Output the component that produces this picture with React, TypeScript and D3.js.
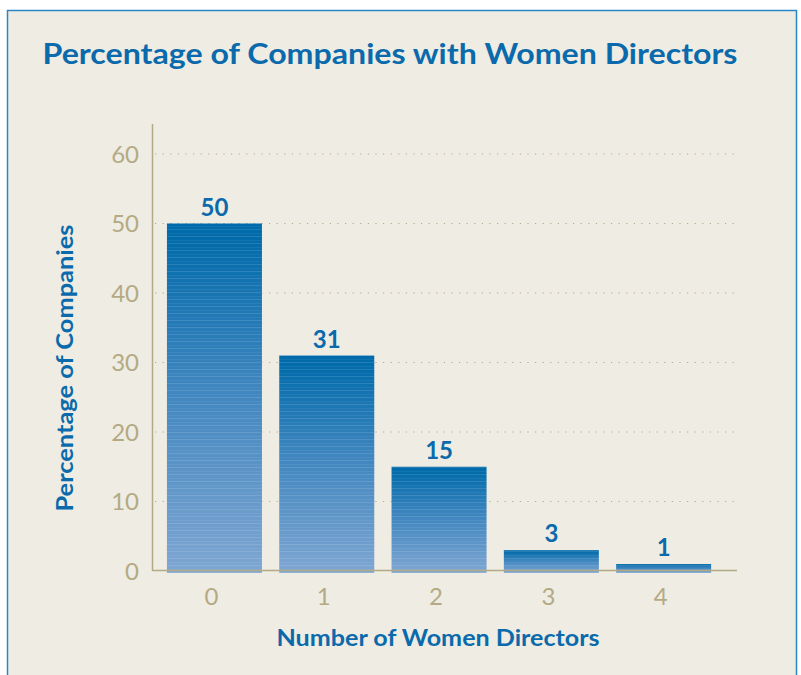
import React from "react";
import * as d3 from "d3";

const categories = ["0", "1", "2", "3", "4"];
const values = [50, 31, 15, 3, 1];
const yTicks = [0, 10, 20, 30, 40, 50, 60];
const title = "Percentage of Companies with Women Directors";
const xTitle = "Number of Women Directors";
const yTitle = "Percentage of Companies";

const W = 801;
const H = 675;
const BLUE = "#0a6aab";
const TAN = "#b3aa83";
const BG = "#efece4";

export default function App() {
  const x = d3
    .scaleBand<string>()
    .domain(categories)
    .range([158.3, 719.8])
    .paddingInner(0.154)
    .paddingOuter(0.077);
  const y = d3.scaleLinear().domain([0, 60]).range([571, 154]);
  const font = "Lato, 'Open Sans', 'DejaVu Sans', sans-serif";

  return (
    <svg
      width={W}
      height={H}
      style={{ position: "absolute", left: 0, top: 0, background: "#ffffff" }}
    >
      <defs>
        <linearGradient id="barGrad" x1="0" y1="0" x2="0" y2="1">
          <stop offset="0" stopColor="#006aaa" />
          <stop offset="0.06" stopColor="#046cab" />
          <stop offset="0.45" stopColor="#3d85be" />
          <stop offset="1" stopColor="#7fa6d2" />
        </linearGradient>
        <pattern id="stripes" width="8" height="7" patternUnits="userSpaceOnUse">
          <rect x="0" y="5" width="8" height="1" fill="#ffffff" opacity="0.12" />
          <rect x="0" y="2" width="8" height="1" fill="#ffffff" opacity="0.06" />
        </pattern>
      </defs>
      <rect x={7.5} y={10.5} width={789} height={680} fill={BG} stroke="#2a86c6" strokeWidth={1.5} />

      <text
        x={390}
        y={64}
        textAnchor="middle"
        fill={BLUE}
        fontFamily={font}
        fontWeight={700}
        fontSize={28}
        textLength={695}
        lengthAdjust="spacingAndGlyphs"
      >
        {title}
      </text>

      {yTicks
        .filter((t) => t > 0)
        .map((t) => (
          <line
            key={"g" + t}
            x1={155}
            x2={736}
            y1={y(t)}
            y2={y(t)}
            stroke={TAN}
            strokeWidth={1.2}
            strokeDasharray="1.2 6.4"
          />
        ))}

      {values.map((v, i) => {
        const bx = x(categories[i])!;
        const by = y(v);
        const bh = y(0) + 2 - by;
        return (
          <g key={"b" + i}>
            <rect x={bx} y={by} width={x.bandwidth()} height={bh} fill="url(#barGrad)" />
            <rect x={bx} y={by} width={x.bandwidth()} height={bh} fill="url(#stripes)" />
            <text
              x={bx + x.bandwidth() / 2}
              y={by - 8}
              textAnchor="middle"
              fill={BLUE}
              fontFamily={font}
              fontWeight={700}
              fontSize={24}
            >
              {v}
            </text>
          </g>
        );
      })}

      <line x1={152.5} x2={152.5} y1={124} y2={571} stroke={TAN} strokeWidth={1.5} />
      <line x1={152} x2={737} y1={570.5} y2={570.5} stroke={TAN} strokeWidth={1.5} />

      {yTicks.map((t) => (
        <text
          key={"y" + t}
          x={139}
          y={y(t) + 8.5}
          textAnchor="end"
          fill={TAN}
          fontFamily={font}
          fontSize={24}
        >
          {t}
        </text>
      ))}
      {categories.map((c) => (
        <text
          key={"x" + c}
          x={x(c)! + x.bandwidth() / 2 - 3}
          y={605}
          textAnchor="middle"
          fill={TAN}
          fontFamily={font}
          fontSize={24}
        >
          {c}
        </text>
      ))}

      <text
        x={438}
        y={646}
        textAnchor="middle"
        fill={BLUE}
        fontFamily={font}
        fontWeight={700}
        fontSize={22}
        textLength={323}
        lengthAdjust="spacingAndGlyphs"
      >
        {xTitle}
      </text>
      <text
        transform="translate(73,368) rotate(-90)"
        textAnchor="middle"
        fill={BLUE}
        fontFamily={font}
        fontWeight={700}
        fontSize={22}
        textLength={287}
        lengthAdjust="spacingAndGlyphs"
      >
        {yTitle}
      </text>
    </svg>
  );
}
